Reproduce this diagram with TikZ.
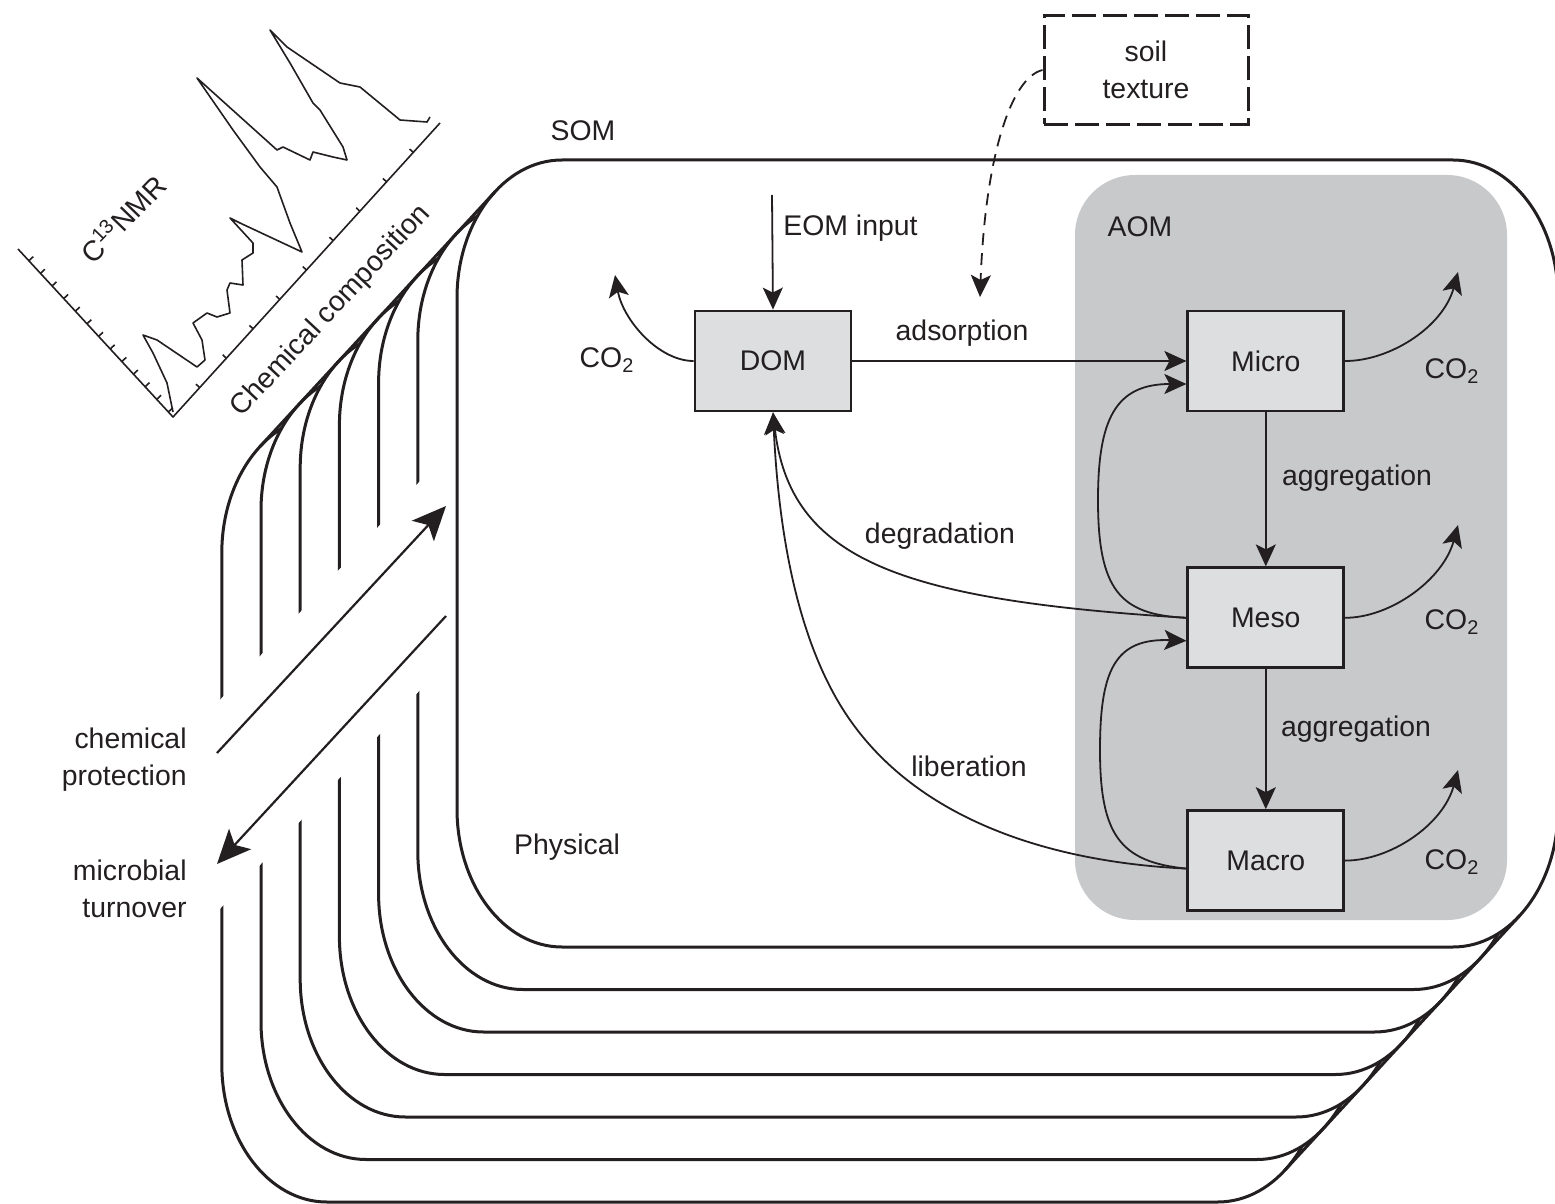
\documentclass[tikz,border=0pt]{standalone}
\usepackage{fontspec}
\setmainfont{Liberation Sans}
\usetikzlibrary{arrows.meta,positioning,calc}

\definecolor{inkc}{HTML}{231F20}
\definecolor{aomgray}{HTML}{C8C9CB}
\definecolor{poolgray}{HTML}{DDDEE0}

\begin{document}
\begin{tikzpicture}[
    x=0.5pt, y=-0.5pt,
    font=\fontsize{14.2pt}{18.5pt}\selectfont,
    pool/.style={rectangle, draw=inkc, line width=1.4pt, fill=poolgray, text=inkc, minimum width=78pt, minimum height=50pt, inner sep=0pt},
    lbl/.style={text=inkc, inner sep=0pt},
    layer/.style={draw=inkc, line width=1.5pt, fill=white},
    arrow/.style={draw=inkc, line width=0.9pt, -{Stealth[length=11pt,width=10pt,inset=2.5pt]}},
    bigarrow/.style={draw=inkc, line width=1.1pt, -{Stealth[length=17pt,width=15pt,inset=4pt]}},
    spec/.style={draw=inkc, line width=0.8pt, line join=round}
]
\useasboundingbox (0,0) rectangle (1555,1204);
\clip (0,0) rectangle (1555,1204);

% stacked SOM layers, back to front
\foreach \k in {6,5,...,0}{
  \draw[layer, shift={(-39.2*\k,42.5*\k)}] (562,160) -- (1453,160)
    arc[start angle=-90, end angle=0, x radius=105, y radius=138] -- (1558,809)
    arc[start angle=0, end angle=90, x radius=105, y radius=138] -- (562,947)
    arc[start angle=90, end angle=180, x radius=105, y radius=138] -- (457,298)
    arc[start angle=180, end angle=270, x radius=105, y radius=138] -- cycle;
}
\fill[white] (208,713) -- (442,457) -- (442,666) -- (208,922) -- cycle;
\draw[inkc, line width=1.5pt] (495.2,191.6) -- (260.0,446.6);
\draw[inkc, line width=1.5pt] (1519.8,915.5) -- (1284.6,1170.5);

% NMR spectrum
\coordinate (axtop) at (18,249);
\coordinate (axorig) at (173,417);
\coordinate (axend) at (440,123);
\draw[spec] (axtop) -- (axorig) -- (axend);
\foreach \t in {0.07,0.145,...,0.98}
  \draw[spec] ($(axtop)!\t!(axorig)$) -- ++(4.4,-4.1);
\foreach \t in {0.1,0.2,...,0.95}
  \draw[spec] ($(axorig)!\t!(axend)$) -- ++(-3.7,-3.4);
\draw[spec] plot coordinates {(173,412) (167,383) (153,353) (143,335) (157,340)
  (197,367) (205,360) (202,340) (193,323) (207,313) (217,317) (230,313) (227,290)
  (230,283) (243,285) (242,260) (253,253) (253,243) (230,218) (240,223) (302,252)
  (290,223) (277,187) (260,167) (233,130) (197,78) (207,87) (277,150) (283,147)
  (310,160) (313,152) (333,157) (347,160) (343,147) (320,110) (313,103) (290,63)
  (270,30) (287,47) (340,83) (360,87) (400,120) (427,122) (430,117)};
\node[lbl, rotate=46] (nmr) at (122,218) {C\textsuperscript{13}NMR};
\node[lbl, rotate=47] (chemcomp) at (331,311) {Chemical composition};

% AOM region
\fill[aomgray, rounded corners=30pt] (1075,175) rectangle (1507,920);

\node[lbl] (som) at (583,131) {SOM};
\node[lbl] (aom) at (1140,227) {AOM};
\node[lbl] (phys) at (567,847) {Physical};

% pools
\node[pool] (dom) at (773,361) {DOM};
\node[pool, right=167pt of dom] (micro) {Micro};
\node[pool, below=77pt of micro] (meso) {Meso};
\node[pool, below=70pt of meso] (macro) {Macro};

\node[draw=inkc, line width=1.5pt, dash pattern=on 12pt off 3.5pt, minimum width=102pt, minimum height=54.5pt, align=center, text=inkc] (soil) at (1146,70) {soil\\texture};

% inputs
\coordinate (eomsrc) at (772,195);
\draw[arrow] (eomsrc) -- (dom.north);
\node[lbl, anchor=west] (eom) at (783,228) {EOM input};
\coordinate (soiltip) at (980,297);
\draw[arrow, dash pattern=on 6pt off 4pt] (soil.west) .. controls (1010,78) and (985,160) .. (soiltip);

% transfers
\draw[arrow] (dom) -- (micro);
\node[lbl] (adsorp) at (962,333) {adsorption};
\draw[arrow] (micro) -- (meso);
\draw[arrow] (meso) -- (macro);
\node[lbl] (agg1) at (1357,478) {aggregation};
\node[lbl] (agg2) at (1356,729) {aggregation};
\draw[arrow] (meso.west) .. controls (1120,615) and (1098,590) .. (1098,500)
  .. controls (1098,420) and (1115,384) .. ($(micro.west)+(0,23)$);
\draw[arrow] ($(macro.west)+(0,8)$) .. controls (1120,862) and (1100,835) .. (1100,750)
  .. controls (1100,670) and (1115,638) .. ($(meso.west)+(0,23)$);
\draw[arrow] (meso.west) .. controls (900,600) and (790,560) .. (dom.south);
\draw[arrow] ($(macro.west)+(0,8)$) .. controls (1050,862) and (920,820) .. (850,720)
  .. controls (794,640) and (778,520) .. (dom.south);
\node[lbl] (degr) at (940,536) {degradation};
\node[lbl] (liber) at (969,766) {liberation};

% respiration
\coordinate (co2dom) at (615,275);
\coordinate (co2mi) at (1458,272);
\coordinate (co2me) at (1458,525);
\coordinate (co2ma) at (1458,770);
\draw[arrow] (dom.west) .. controls +(-35,0) and +(8,45) .. (co2dom);
\draw[arrow] (micro.east) .. controls +(45,0) and +(-15,55) .. (co2mi);
\draw[arrow] (meso.east) .. controls +(45,0) and +(-15,55) .. (co2me);
\draw[arrow] (macro.east) .. controls +(45,0) and +(-15,55) .. (co2ma);
\node[lbl] (co2a) at (607,360) {CO\textsubscript{2}};
\node[lbl] (co2b) at (1452,371) {CO\textsubscript{2}};
\node[lbl] (co2c) at (1452,622) {CO\textsubscript{2}};
\node[lbl] (co2d) at (1452,862) {CO\textsubscript{2}};

% protection and turnover
\node[lbl, anchor=east, align=right] (chemprot) at (187,760) {chemical\\protection};
\node[lbl, anchor=east, align=right] (microturn) at (187,889) {microbial\\turnover};
\coordinate (cpstart) at (217,753);
\coordinate (cpend) at (446,506);
\coordinate (mtlow) at (217,864);
\coordinate (mthigh) at (446,616);
\draw[bigarrow] (cpstart) -- (cpend);
\draw[bigarrow, {Stealth[length=17pt,width=15pt,inset=4pt]}-] (mtlow) -- (mthigh);
\end{tikzpicture}
\end{document}
